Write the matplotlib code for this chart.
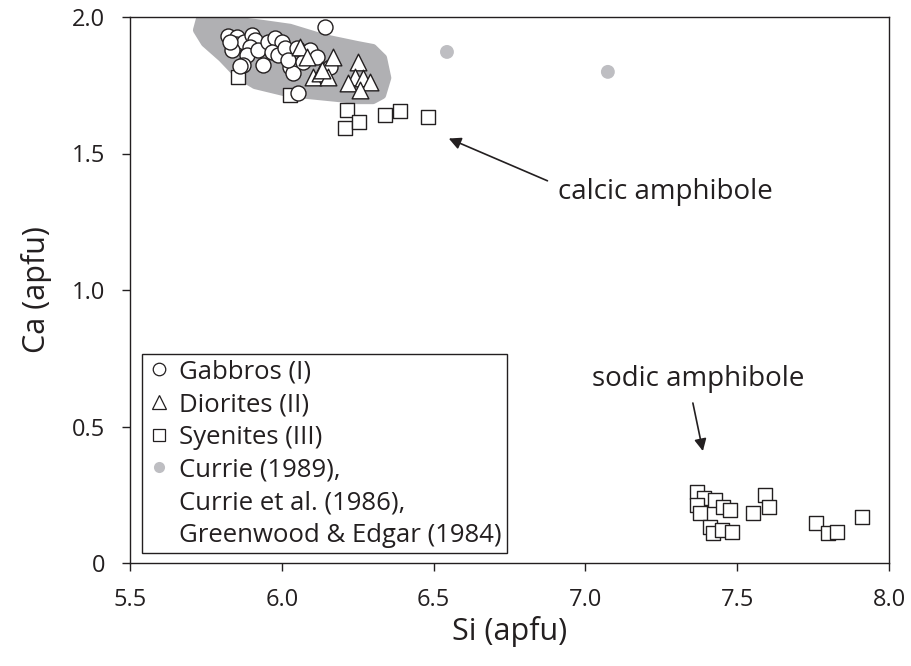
import matplotlib
matplotlib.use("Agg")
import matplotlib.pyplot as plt
from matplotlib.patches import Polygon
from matplotlib.lines import Line2D

plt.rcParams['font.family'] = ['Open Sans', 'DejaVu Sans']

# ---- data ----
gabbro_si = [5.823, 5.852, 5.849, 5.875, 5.836, 5.829, 5.902, 5.912, 5.895, 5.885,
             5.872, 5.938, 5.922, 5.955, 5.978, 6.001, 5.968, 5.987, 6.011, 6.027,
             6.037, 6.020, 6.050, 6.070, 6.093, 6.116, 6.159, 6.053, 6.142, 5.862]
gabbro_ca = [1.930, 1.927, 1.901, 1.908, 1.879, 1.908, 1.934, 1.916, 1.890, 1.861,
             1.824, 1.824, 1.879, 1.908, 1.923, 1.908, 1.872, 1.861, 1.886, 1.817,
             1.795, 1.842, 1.886, 1.835, 1.879, 1.853, 1.817, 1.722, 1.963, 1.821]

diorite_si = [6.060, 6.083, 6.103, 6.126, 6.152, 6.169, 6.251, 6.241, 6.218, 6.267,
              6.291, 6.258, 6.132]
diorite_ca = [1.890, 1.853, 1.780, 1.795, 1.780, 1.853, 1.835, 1.780, 1.758, 1.777,
              1.762, 1.733, 1.806]

syenite_si = [5.856, 6.027, 6.215, 6.208, 6.254, 6.340, 6.389, 6.482,
              7.368, 7.391, 7.427, 7.368, 7.377, 7.453, 7.476, 7.410, 7.420, 7.450,
              7.483, 7.552, 7.592, 7.605, 7.760, 7.799, 7.829, 7.911]
syenite_ca = [1.780, 1.714, 1.659, 1.593, 1.615, 1.641, 1.656, 1.634,
              0.260, 0.238, 0.231, 0.212, 0.183, 0.205, 0.194, 0.132, 0.110, 0.121,
              0.114, 0.183, 0.249, 0.205, 0.147, 0.110, 0.114, 0.168]

currie_si = [6.544, 7.074]
currie_ca = [1.872, 1.799]

field_si = [5.731, 5.829, 5.938, 6.027, 6.136, 6.248, 6.300, 6.333, 6.347, 6.330,
            6.300, 6.248, 6.192, 6.093, 6.020, 5.912, 5.856, 5.803, 5.747, 5.721]
field_ca = [1.993, 1.989, 1.974, 1.960, 1.923, 1.897, 1.886, 1.850, 1.777, 1.714,
            1.696, 1.696, 1.703, 1.714, 1.722, 1.751, 1.788, 1.850, 1.905, 1.952]

x_ticks = [5.5, 6.0, 6.5, 7.0, 7.5, 8.0]
x_ticklabels = ['5.5', '6.0', '6.5', '7.0', '7.5', '8.0']
y_ticks = [0, 0.5, 1.0, 1.5, 2.0]
y_ticklabels = ['0', '0.5', '1.0', '1.5', '2.0']

legend_labels = ['Gabbros (I)', 'Diorites (II)', 'Syenites (III)', 'Currie (1989),',
                 'Currie et al. (1986),', 'Greenwood & Edgar (1984)']

# ---- figure ----
fig = plt.figure(figsize=(9.11, 6.66), dpi=100)
ax = fig.add_axes([130/911, 1 - 563/666, (889 - 130)/911, (563 - 17)/666])

edge = '#231f20'
field_col = '#b0b0b3'
grey_dot = '#bebec2'

field = Polygon(list(zip(field_si, field_ca)), closed=True, facecolor=field_col,
                edgecolor=field_col, linewidth=6, joinstyle='round', zorder=1)
ax.add_patch(field)

ax.scatter(syenite_si, syenite_ca, marker='s', s=9.6**2, facecolor='white',
           edgecolor=edge, linewidth=1.0, zorder=2)
ax.scatter(gabbro_si, gabbro_ca, marker='o', s=10.8**2, facecolor='white',
           edgecolor=edge, linewidth=1.0, zorder=3)
ax.scatter(diorite_si, diorite_ca, marker='^', s=12.0**2, facecolor='white',
           edgecolor=edge, linewidth=1.0, zorder=4)
ax.scatter(currie_si, currie_ca, marker='o', s=10.0**2, facecolor=grey_dot,
           edgecolor='none', zorder=5)

ax.set_xlim(5.5, 8.0)
ax.set_ylim(0, 2.0)
ax.set_xticks(x_ticks)
ax.set_xticklabels(x_ticklabels)
ax.set_yticks(y_ticks)
ax.set_yticklabels(y_ticklabels)
ax.tick_params(direction='out', length=6, width=1.0, labelsize=17, colors=edge, pad=12)
for sp in ax.spines.values():
    sp.set_linewidth(1.0)
    sp.set_color(edge)

ax.set_xlabel('Si (apfu)', fontsize=22, color=edge, labelpad=3)
ax.set_ylabel('Ca (apfu)', fontsize=22, color=edge, labelpad=14)

# annotations
ax.annotate('', xy=(6.55, 1.555), xytext=(6.875, 1.40),
            arrowprops=dict(arrowstyle='-|>', color=edge, lw=1.2,
                            mutation_scale=18, shrinkA=0, shrinkB=0))
ax.text(6.91, 1.36, 'calcic amphibole', fontsize=20, color=edge,
        ha='left', va='center')
ax.annotate('', xy=(7.387, 0.41), xytext=(7.354, 0.586),
            arrowprops=dict(arrowstyle='-|>', color=edge, lw=1.2,
                            mutation_scale=18, shrinkA=0, shrinkB=0))
ax.text(7.37, 0.675, 'sodic amphibole', fontsize=20, color=edge,
        ha='center', va='center')

# legend
handles = [
    Line2D([], [], marker='o', ls='none', ms=9, mfc='white', mec=edge, mew=0.9),
    Line2D([], [], marker='^', ls='none', ms=10, mfc='white', mec=edge, mew=0.9),
    Line2D([], [], marker='s', ls='none', ms=8.5, mfc='white', mec=edge, mew=0.9),
    Line2D([], [], marker='o', ls='none', ms=8, mfc=grey_dot, mec='none'),
    Line2D([], [], ls='none'),
    Line2D([], [], ls='none'),
]
leg = ax.legend(handles, legend_labels, loc='lower left',
                bbox_to_anchor=(12/759, 10/546), borderaxespad=0,
                fontsize=18.5, frameon=True, fancybox=False, framealpha=1,
                edgecolor=edge, handlelength=0.9, handletextpad=0.35,
                labelspacing=0.3, borderpad=0.2)
leg.get_frame().set_linewidth(1.0)
for t in leg.get_texts():
    t.set_color(edge)

fig.savefig('out.png', dpi=100)
